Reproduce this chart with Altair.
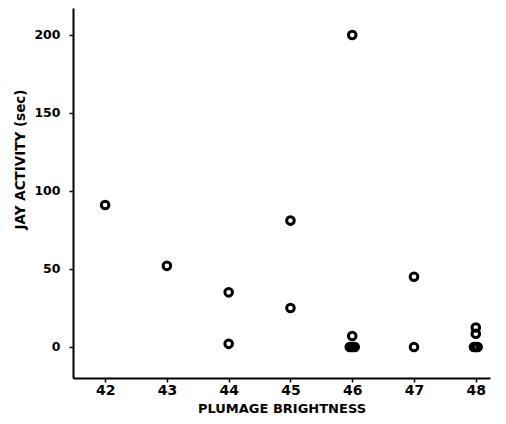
import altair as alt
import pandas as pd

brightness = [42, 43, 44, 44, 45, 45, 46, 46, 45.96, 46, 46.04, 47, 47, 48, 48, 47.97, 48, 48.03]
activity = [91, 52, 35, 2, 81, 25, 200, 7, 0, 0, 0, 45, 0, 12.5, 8.5, 0, 0, 0]
x_ticks = [42, 43, 44, 45, 46, 47, 48]
y_ticks = [0, 50, 100, 150, 200]

df = pd.DataFrame({"b": brightness, "a": activity})

font = "DejaVu Sans"

chart = alt.Chart(df).mark_point(
    shape="circle", filled=False, color="black", strokeWidth=3, size=58, opacity=1
).encode(
    x=alt.X("b:Q", scale=alt.Scale(domain=[41.48, 48.23], nice=False, zero=False),
            axis=alt.Axis(values=x_ticks, format="d", title="PLUMAGE BRIGHTNESS",
                          grid=False, domainColor="black", domainWidth=2,
                          tickColor="black", tickSize=4, tickWidth=1.5,
                          labelFont=font, labelFontWeight="bold", labelFontSize=14,
                          labelColor="black", labelPadding=1,
                          titleFont=font, titleFontWeight="bold", titleFontSize=13,
                          titleColor="black", titlePadding=5)),
    y=alt.Y("a:Q", scale=alt.Scale(domain=[-19.9, 217.3], nice=False, zero=False),
            axis=alt.Axis(values=y_ticks, format="d", title="JAY ACTIVITY (sec)",
                          grid=False, domainColor="black", domainWidth=2,
                          tickColor="black", tickSize=4, tickWidth=1.5,
                          labelFont=font, labelFontWeight="bold", labelFontSize=12.5,
                          labelColor="black", labelPadding=9,
                          titleFont=font, titleFontWeight="bold", titleFontSize=13.5,
                          titleColor="black", titlePadding=6, titleY=151)),
).properties(
    width=417, height=370,
    autosize=alt.AutoSizeParams(type="none"),
    padding={"left": 65, "top": 0, "right": 8, "bottom": 46},
    background="white",
).configure_view(stroke=None)

chart.save("out.html", embed_options={"renderer": "svg", "actions": False})
